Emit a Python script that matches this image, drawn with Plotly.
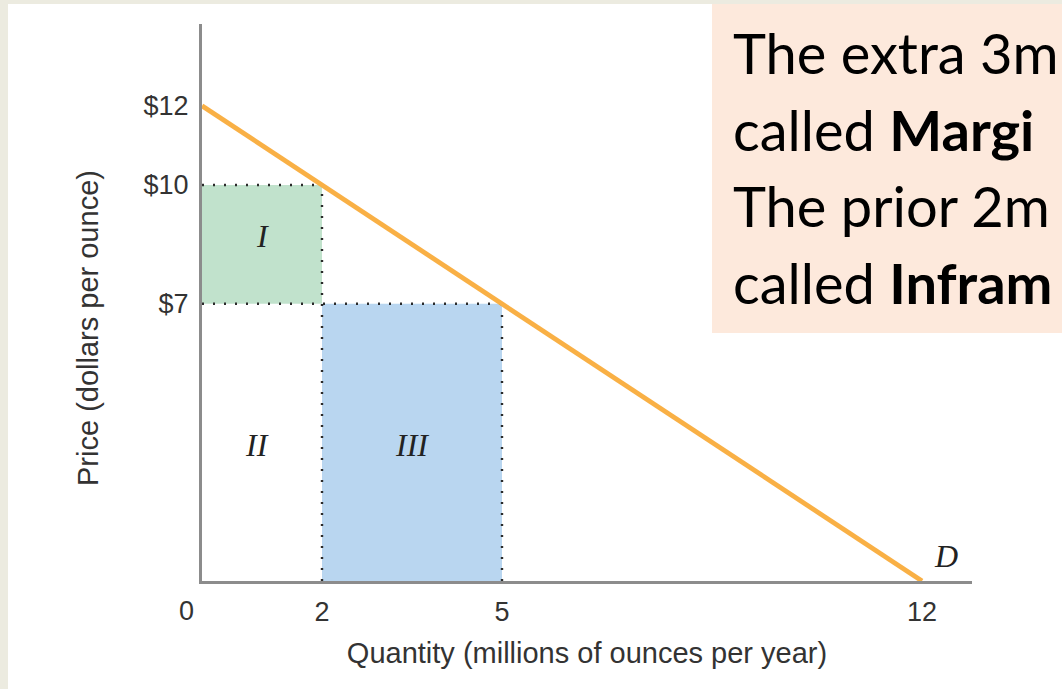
import plotly.graph_objects as go

# ---- data ----
price_ticks = [12, 10, 7]
price_labels = ["$12", "$10", "$7"]
qty_ticks = [2, 5, 12]
qty_labels = ["2", "5", "12"]

demand_q = [0, 12]
demand_p = [12, 0]

# area I: between $10 and $7 for the first 2 million ounces
area1_q = [0, 2, 2, 0, 0]
area1_p = [10, 10, 7, 7, 10]
# area III: below $7 for the extra 3 million ounces (2 -> 5)
area3_q = [2, 5, 5, 2, 2]
area3_p = [7, 7, 0, 0, 7]

# dotted guide lines
guides = [
    ([0, 2], [10, 10]),
    ([2, 2], [0, 10]),
    ([0, 5], [7, 7]),
    ([5, 5], [0, 7]),
]

area_labels = [("I", 1.0, 8.7), ("II", 0.92, 3.43), ("III", 3.5, 3.43), ("D", 12.4, 0.63)]

note_lines = [
    "The extra 3m",
    "called <b>Margi</b>",
    "The prior 2m",
    "called <b>Infram</b>",
]
note_baselines = [73, 150, 226, 303]

# ---- layout geometry (pixels) ----
W, H = 1062, 689
ML, MR, MT, MB = 202, 90, 24, 108
PW, PH = W - ML - MR, H - MT - MB


def px_x(px):
    return (px - ML) / PW


def px_y(py):
    return (H - MB - py) / PH


AXIS_GREY = "#8c8c8c"
TEXT = "#333333"
SANS = "Liberation Sans, Arial, sans-serif"
SERIF = "Liberation Serif, Times New Roman, serif"
NOTE_SIZE = 56

fig = go.Figure()

fig.add_trace(go.Scatter(x=area1_q, y=area1_p, fill="toself", fillcolor="#c1e2cc",
                         line=dict(width=0), mode="lines", hoverinfo="skip"))
fig.add_trace(go.Scatter(x=area3_q, y=area3_p, fill="toself", fillcolor="#b9d6f0",
                         line=dict(width=0), mode="lines", hoverinfo="skip"))

for gx, gy in guides:
    fig.add_trace(go.Scatter(x=gx, y=gy, mode="lines",
                             line=dict(color="#2a2a2a", width=2.4, dash="2px,9px"),
                             hoverinfo="skip"))

fig.add_trace(go.Scatter(x=demand_q, y=demand_p, mode="lines",
                         line=dict(color="#f9b045", width=4.8), hoverinfo="skip"))

for txt, ax, ay in area_labels:
    fig.add_annotation(x=ax, y=ay, text=f"<i>{txt}</i>", showarrow=False,
                       xanchor="center", yanchor="middle",
                       font=dict(family=SERIF, size=32, color="#222222"))

# "0" at the origin sits left of the axis corner
fig.add_annotation(x=px_x(186), y=px_y(611), xref="paper", yref="paper", text="0",
                   xanchor="center", yanchor="middle", showarrow=False,
                   font=dict(family=SANS, size=27, color=TEXT))

# vertical axis title
fig.add_annotation(x=px_x(88), y=px_y(328), xref="paper", yref="paper",
                   text="Price (dollars per ounce)", textangle=-90,
                   xanchor="center", yanchor="middle", showarrow=False,
                   font=dict(family=SANS, size=29, color=TEXT))

# page background panel and note box
fig.add_shape(type="rect", xref="paper", yref="paper", layer="below",
              x0=px_x(8), x1=px_x(W + 5), y0=px_y(H + 5), y1=px_y(4),
              fillcolor="white", line=dict(width=0))
fig.add_shape(type="rect", xref="paper", yref="paper", layer="below",
              x0=px_x(712), x1=px_x(W + 5), y0=px_y(333), y1=px_y(4),
              fillcolor="#fde9dc", line=dict(width=0))

for line, base in zip(note_lines, note_baselines):
    fig.add_annotation(x=px_x(731), y=px_y(base - 1.0 * NOTE_SIZE),
                       xref="paper", yref="paper",
                       xanchor="left", yanchor="top", align="left", showarrow=False,
                       text=line,
                       font=dict(family="Lato, Carlito, sans-serif", size=NOTE_SIZE,
                                 color="#000000"))

fig.update_layout(
    width=W, height=H,
    margin=dict(l=ML, r=MR, t=MT, b=MB),
    paper_bgcolor="#ecebe0",
    plot_bgcolor="rgba(0,0,0,0)",
    showlegend=False,
    xaxis=dict(range=[0, PW / 60.0], showgrid=False, zeroline=False,
               showline=True, linecolor=AXIS_GREY, linewidth=3,
               tickvals=qty_ticks, ticktext=qty_labels, ticks="",
               ticklabelstandoff=5,
               tickfont=dict(family=SANS, size=27, color=TEXT),
               title=dict(text="Quantity (millions of ounces per year)",
                          font=dict(family=SANS, size=29, color=TEXT), standoff=17)),
    yaxis=dict(range=[0, PH / 39.6], showgrid=False, zeroline=False,
               showline=True, linecolor=AXIS_GREY, linewidth=3,
               tickvals=price_ticks, ticktext=price_labels, ticks="",
               ticklabelstandoff=5,
               tickfont=dict(family=SANS, size=27, color=TEXT)),
)

fig.write_html("out.html")
